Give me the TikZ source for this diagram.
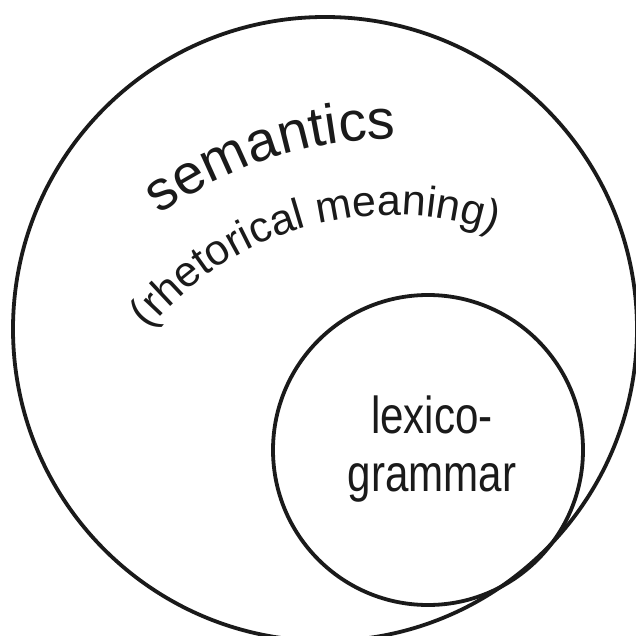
\documentclass[tikz,border=0pt]{standalone}
\usepackage{fontspec}
\setmainfont{Liberation Sans}
\newfontfamily\narrowfont[FakeStretch=0.81]{Liberation Sans}
\usetikzlibrary{decorations.text}
\definecolor{ink}{HTML}{1A1A1A}
\tikzset{
  ring/.style={circle, draw=ink, line width=3.8pt, inner sep=0pt},
  arctext/.style={decorate, decoration={text along path, text align=center, text color=ink}}
}
\begin{document}
\begin{tikzpicture}[x=1pt,y=1pt]
\useasboundingbox (0,0) rectangle (636,635);
% big circle (semantics)
\node[ring, minimum size=624pt] (sem) at (325,306) {};
% small circle (lexico-grammar)
\node[ring, minimum size=310pt] (lex) at (428,185) {};
\node[align=center, text=ink, font=\narrowfont\fontsize{52}{58}\selectfont] (lgtext) at (432,186) {lexico-\\grammar};
% curved labels (common centre)
\coordinate (arcc) at (392,105);
\path[arctext, decoration={text={|\fontsize{56}{60}\selectfont|semantics}}]
  ([shift={(147.9:391)}]arcc) arc[start angle=147.9, end angle=67.9, radius=391];
\path[arctext, decoration={text={|\fontsize{43}{48}\selectfont|(rhetorical meaning)}}]
  ([shift={(145.7:315)}]arcc) arc[start angle=145.7, end angle=65.7, radius=315];
\end{tikzpicture}
\end{document}
